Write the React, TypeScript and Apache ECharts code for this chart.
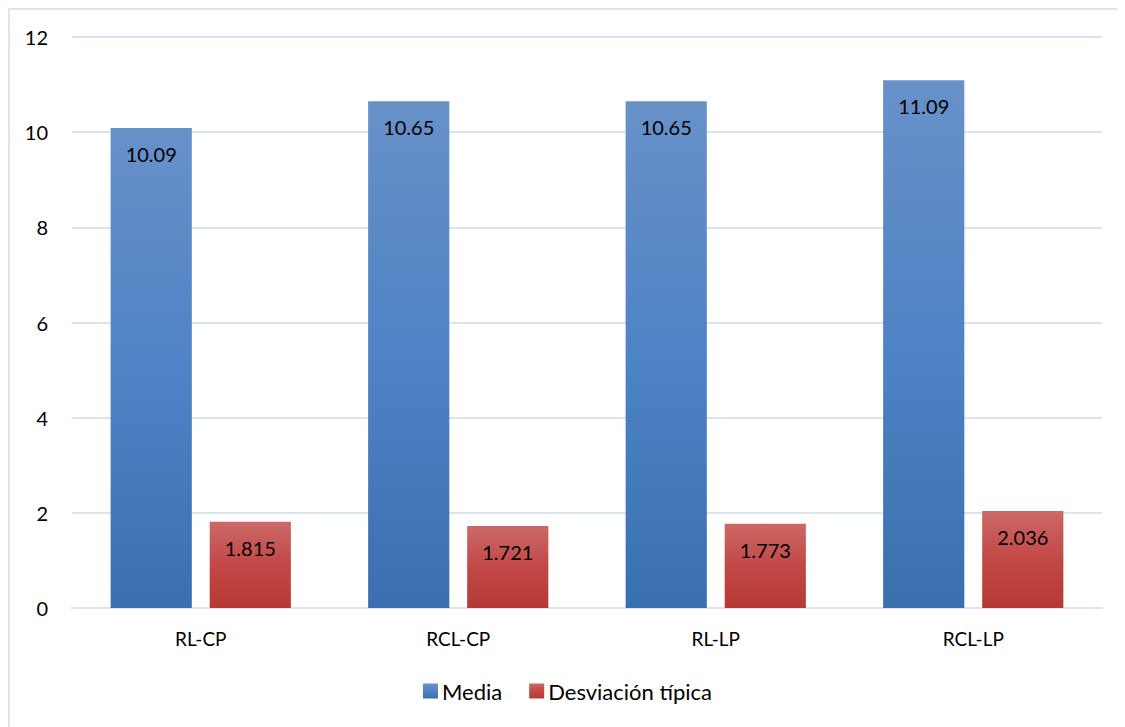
import React, { useEffect, useRef } from "react";
import * as echarts from "echarts";

const categories = ["RL-CP", "RCL-CP", "RL-LP", "RCL-LP"];
const mediaValues = [10.09, 10.65, 10.65, 11.09];
const desviacionValues = [1.815, 1.721, 1.773, 2.036];
const seriesNames = ["Media", "Desviación típica"];
const yTicks = { min: 0, max: 12, interval: 2 };

const FONT = "Lato, 'Noto Sans', sans-serif";

export default function App() {
  const ref = useRef<HTMLDivElement>(null);
  useEffect(() => {
    if (!ref.current) return;
    const chart = echarts.init(ref.current, undefined, { renderer: "svg" });
    const blue = new echarts.graphic.LinearGradient(0, 0, 0, 1, [
      { offset: 0, color: "#6891c9" },
      { offset: 0.5, color: "#4e83c5" },
      { offset: 1, color: "#3a6faf" },
    ]);
    const red = new echarts.graphic.LinearGradient(0, 0, 0, 1, [
      { offset: 0, color: "#cb6967" },
      { offset: 0.5, color: "#c24846" },
      { offset: 1, color: "#b53a37" },
    ]);
    const labelStyle = {
      show: true,
      position: "insideTop" as const,
      distance: 16,
      color: "#000",
      fontSize: 20,
      fontFamily: FONT,
    };
    chart.setOption({
      animation: false,
      textStyle: { fontFamily: FONT },
      grid: { left: 62, right: 23, top: 27, bottom: 119, containLabel: false },
      legend: {
        bottom: 20,
        left: "center",
        itemWidth: 15,
        itemHeight: 15,
        itemGap: 27,
        icon: "rect",
        textStyle: { fontSize: 22, color: "#000", fontFamily: FONT, padding: [0, 0, 0, -1] },
        data: seriesNames,
      },
      xAxis: {
        type: "category",
        data: categories,
        axisLine: { show: true, lineStyle: { color: "#d9e3f1", width: 2 } },
        axisTick: { show: false },
        axisLabel: { color: "#000", fontSize: 19, margin: 21, fontFamily: FONT },
      },
      yAxis: {
        type: "value",
        min: yTicks.min,
        max: yTicks.max,
        interval: yTicks.interval,
        axisLine: { show: false },
        axisTick: { show: false },
        axisLabel: { color: "#000", fontSize: 20, margin: 24, fontFamily: FONT },
        splitLine: { lineStyle: { color: "#d9e3f1", width: 2 } },
      },
      series: [
        {
          name: seriesNames[0],
          type: "bar",
          data: mediaValues,
          barGap: "22%",
          barCategoryGap: "30%",
          itemStyle: { color: blue },
          label: labelStyle,
        },
        {
          name: seriesNames[1],
          type: "bar",
          data: desviacionValues,
          barGap: "22%",
          barCategoryGap: "30%",
          itemStyle: { color: red },
          label: labelStyle,
        },
      ],
    });
    return () => chart.dispose();
  }, []);
  return (
    <div
      style={{
        width: 1117,
        height: 719,
        boxSizing: "border-box",
        borderTop: "2px solid #dae4f2",
        borderLeft: "2px solid #dae4f2",
        background: "#fff",
      }}
    >
      <div ref={ref} style={{ width: 1115, height: 717 }} />
    </div>
  );
}
